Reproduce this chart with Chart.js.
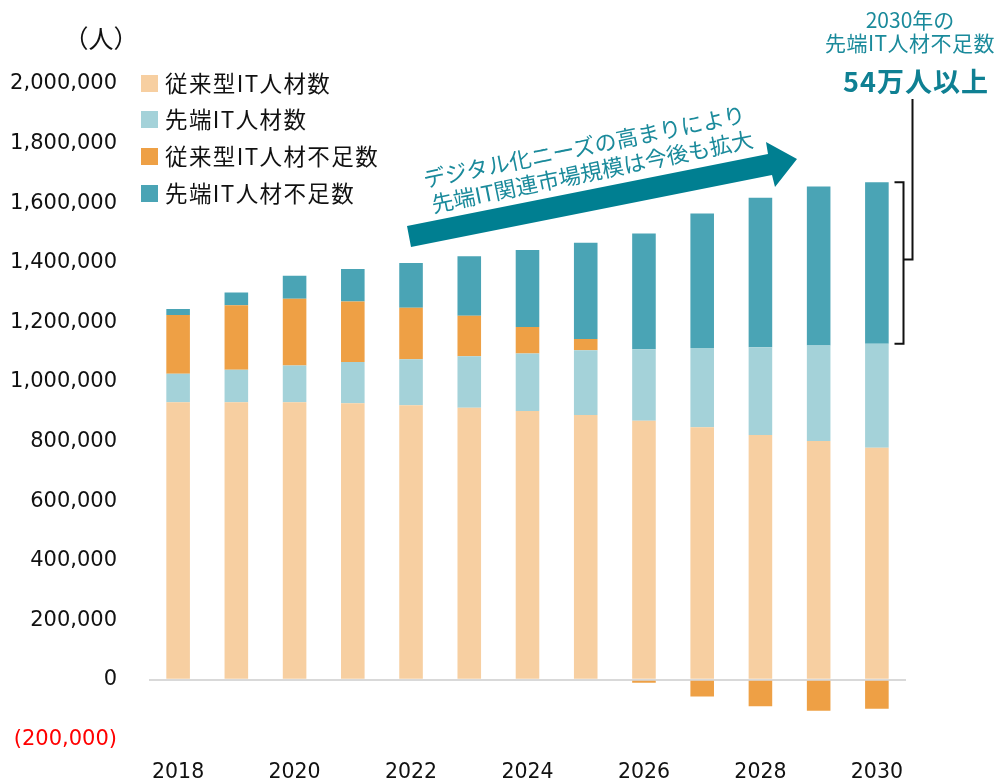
<!DOCTYPE html>
<html lang="ja">
<head>
<meta charset="utf-8">
<script src="https://cdn.jsdelivr.net/npm/chart.js@4.4.1/dist/chart.umd.min.js"></script>
<style>
  html, body { margin: 0; padding: 0; background: #fff; }
  #wrap { position: relative; width: 997px; height: 784px; overflow: hidden; }
  #c { position: absolute; left: 0; top: 0; }
  .ov { position: absolute; white-space: nowrap; font-family: "Noto Sans CJK JP", "Noto Sans", sans-serif; }
  .ctr { transform: translate(-50%, -50%); }
  .leg { position: absolute; left: 141px; font-size: 22.5px; color: #111; font-family: "Noto Sans CJK JP", sans-serif; white-space: nowrap; line-height: 1; }
  .leg i { position: absolute; left: 0; top: 0; width: 17px; height: 17px; }
  .leg span { position: absolute; left: 24px; top: -4px; letter-spacing: 1.4px; }
</style>
</head>
<body>
<div id="wrap">
  <canvas id="c" width="997" height="784"></canvas>
</div>
<script>
// ---- data (values in persons) ----
const years = ['2018','2019','2020','2021','2022','2023','2024','2025','2026','2027','2028','2029','2030'];
const seriesNames = ['従来型IT人材数', '先端IT人材数', '従来型IT人材不足数', '先端IT人材不足数'];
const conventionalIT = [932000, 932000, 932000, 928000, 922000, 913000, 902000, 889000, 870000, 848000, 822000, 802000, 779000];
const advancedIT     = [95000, 109000, 123000, 139000, 154000, 173000, 193000, 217000, 240000, 266000, 294000, 320000, 349000];
const conventionalShortage = [198000, 216000, 224000, 203000, 173000, 136000, 89000, 38000, -10000, -56000, -89000, -104000, -97000];
const advancedShortage     = [20000, 43000, 77000, 109000, 150000, 200000, 259000, 323000, 388000, 451000, 502000, 534000, 542000];
const yTicks = [-200000, 0, 200000, 400000, 600000, 800000, 1000000, 1200000, 1400000, 1600000, 1800000, 2000000];

const colors = ['#F7CFA1', '#A4D2D9', '#EEA045', '#4AA4B5'];
const seriesData = [conventionalIT, advancedIT, conventionalShortage, advancedShortage];

// ---- legend & annotations (real text, HTML) ----
const wrap = document.getElementById('wrap');
const legTops = [75, 111, 148, 185];
seriesNames.forEach((n, i) => {
  const d = document.createElement('div');
  d.className = 'leg';
  d.style.top = legTops[i] + 'px';
  d.innerHTML = '<i style="background:' + colors[i] + '"></i><span>' + n + '</span>';
  wrap.appendChild(d);
});
function addText(txt, x, y, css) {
  const d = document.createElement('div');
  d.className = 'ov ctr';
  d.style.left = x + 'px';
  d.style.top = y + 'px';
  d.textContent = txt;
  Object.assign(d.style, css || {});
  wrap.appendChild(d);
  return d;
}
addText('（人）', 101, 37, { fontSize: '25px', color: '#111' });
addText('2030年の', 910, 19, { fontSize: '21px', color: '#1A8A9B' });
addText('先端IT人材不足数', 910, 42, { fontSize: '21px', color: '#1A8A9B', letterSpacing: '0.5px' });
addText('54万人以上', 916, 80, { fontSize: '27px', color: '#0F8093', fontWeight: '700', letterSpacing: '1px' });
const rot = { fontSize: '22px', color: '#1A8A9B', transform: 'translate(-50%,-50%) rotate(-11.6deg)' };
addText('デジタル化ニーズの高まりにより', 584, 145, rot);
addText('先端IT関連市場規模は今後も拡大', 592, 170, rot);

// ---- decoration plugin (arrow + bracket) ----
const deco = {
  id: 'deco',
  afterDatasetsDraw(chart) {
    const ctx = chart.ctx;
    // arrow
    ctx.save();
    ctx.fillStyle = '#007F91';
    ctx.beginPath();
    ctx.moveTo(407, 226);
    ctx.lineTo(768, 154);
    ctx.lineTo(766, 142);
    ctx.lineTo(797, 159);
    ctx.lineTo(775, 187);
    ctx.lineTo(772, 175);
    ctx.lineTo(411, 247);
    ctx.closePath();
    ctx.fill();
    ctx.restore();

    // bracket next to the last bar's advanced shortage segment
    const last = years.length - 1;
    const ys = chart.scales.y;
    const bar = chart.getDatasetMeta(3).data[last];
    const topY = ys.getPixelForValue(conventionalIT[last] + advancedIT[last] + Math.max(0, conventionalShortage[last]) + advancedShortage[last]);
    const botY = ys.getPixelForValue(conventionalIT[last] + advancedIT[last] + Math.max(0, conventionalShortage[last]));
    const x = Math.round(bar.x + bar.width / 2 + 14) + 0.5;
    const midY = Math.round((topY + botY) / 2 - 4) + 0.5;
    ctx.save();
    ctx.strokeStyle = '#111';
    ctx.lineWidth = 2;
    ctx.beginPath();
    ctx.moveTo(x - 9, topY);
    ctx.lineTo(x, topY);
    ctx.lineTo(x, botY);
    ctx.lineTo(x - 9, botY);
    ctx.moveTo(x, midY);
    ctx.lineTo(x + 9, midY);
    ctx.lineTo(x + 9, 99);
    ctx.stroke();
    ctx.restore();
  }
};

const fmt = v => {
  const s = Math.abs(v).toLocaleString('en-US');
  return v < 0 ? '(' + s + ')' : s;
};

new Chart(document.getElementById('c'), {
  type: 'bar',
  data: {
    labels: years,
    datasets: seriesNames.map((n, i) => ({
      label: n,
      data: seriesData[i],
      backgroundColor: colors[i],
      borderWidth: 0,
      categoryPercentage: 1.0,
      barPercentage: 0.405
    }))
  },
  options: {
    responsive: false,
    animation: false,
    events: [],
    layout: { padding: { left: 0, right: 91, top: 84, bottom: 0 } },
    plugins: { legend: { display: false }, tooltip: { enabled: false } },
    scales: {
      x: {
        stacked: true,
        grid: { display: false, drawTicks: false },
        border: { display: false },
        ticks: {
          autoSkip: false,
          maxRotation: 0,
          padding: 21,
          color: '#111',
          font: { family: '"DejaVu Sans", sans-serif', size: 20.5 },
          callback: function (v, i) { return i % 2 === 0 ? years[i] : ''; }
        },
        afterFit: s => { s.height = 40; }
      },
      y: {
        stacked: true,
        min: -200000,
        max: 2000000,
        afterBuildTicks: s => { s.ticks = yTicks.map(v => ({ value: v })); },
        grid: {
          drawTicks: false,
          color: c => (c.tick && c.tick.value === 0) ? '#D9D9D9' : 'rgba(0,0,0,0)',
          lineWidth: 2
        },
        border: { display: false },
        ticks: {
          padding: 32,
          color: c => (c.tick && c.tick.value < 0) ? '#FF0000' : '#111',
          font: { family: '"DejaVu Sans", sans-serif', size: 21 },
          callback: v => fmt(v)
        },
        afterFit: s => { s.width = 149; }
      }
    }
  },
  plugins: [deco]
});
</script>
</body>
</html>
